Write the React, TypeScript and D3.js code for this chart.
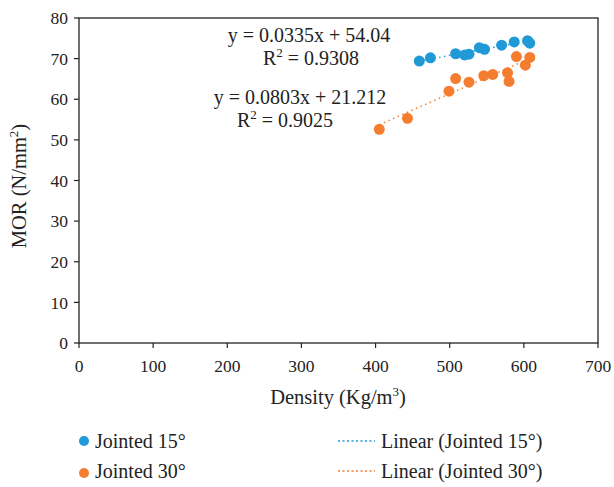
import React from "react";
import * as d3 from "d3";

// Jointed 15° (density, MOR)
const density15 = [459, 474, 508, 520, 526, 540, 547, 570, 587, 605, 608];
const mor15 = [69.4, 70.2, 71.2, 70.9, 71.1, 72.7, 72.3, 73.3, 74.1, 74.4, 73.8];

// Jointed 30°
const density30 = [405, 443, 499, 508, 526, 546, 558, 578, 580, 590, 602, 608];
const mor30 = [52.6, 55.3, 62.0, 65.1, 64.2, 65.8, 66.1, 66.5, 64.4, 70.5, 68.4, 70.3];

const seriesNames = ["Jointed 15°", "Jointed 30°"];
const slopes = [0.0335, 0.0803];
const intercepts = [54.04, 21.212];
const eqTexts = ["y = 0.0335x + 54.04", "y = 0.0803x + 21.212"];
const r2Texts = ["0.9308", "0.9025"];

const xTicks = [0, 100, 200, 300, 400, 500, 600, 700];
const yTicks = [0, 10, 20, 30, 40, 50, 60, 70, 80];

const colors = ["#1f9ad7", "#f57d2f"];
const FONT = "'Liberation Serif', 'Times New Roman', serif";

export default function App() {
  const width = 614;
  const height = 487;
  const left = 79, right = 598, top = 18, bottom = 343;

  const x = d3.scaleLinear().domain([0, 700]).range([left, right]);
  const y = d3.scaleLinear().domain([0, 80]).range([bottom, top]);

  const series = [
    { xs: density15, ys: mor15 },
    { xs: density30, ys: mor30 },
  ];

  const line = d3.line<[number, number]>().x(d => x(d[0])).y(d => y(d[1]));

  // equation label positions
  const eqPos = [
    { cx: 309, cy: 35, rx: 311, ry: 58 },
    { cx: 300, cy: 97, rx: 285, ry: 120 },
  ];

  return (
    <svg width={width} height={height} style={{ position: "absolute", left: 0, top: 0 }} fontFamily={FONT}>
      <rect x={0} y={0} width={width} height={height} fill="#fff" />
      {/* frame */}
      <rect x={left} y={top} width={right - left} height={bottom - top} fill="none" stroke="#222" strokeWidth={1.3} />

      {/* y ticks */}
      {yTicks.map(t => (
        <g key={"y" + t}>
          <line x1={left - 5} x2={left} y1={y(t)} y2={y(t)} stroke="#222" strokeWidth={1.2} />
          <text x={left - 11} y={y(t)} dy="0.35em" textAnchor="end" fontSize={17.5} fill="#222">{t}</text>
        </g>
      ))}
      {/* x ticks */}
      {xTicks.map(t => (
        <g key={"x" + t}>
          <line x1={x(t)} x2={x(t)} y1={bottom} y2={bottom + 5} stroke="#222" strokeWidth={1.2} />
          <text x={x(t)} y={bottom + 29} textAnchor="middle" fontSize={17.5} fill="#222">{t}</text>
        </g>
      ))}

      {/* axis titles */}
      <text x={338} y={404} textAnchor="middle" fontSize={20.5} fill="#222">
        Density (Kg/m<tspan dy={-8} fontSize={13}>3</tspan><tspan dy={8}>)</tspan>
      </text>
      <text transform={`translate(26,${186}) rotate(-90)`} textAnchor="middle" fontSize={20.5} fill="#222">
        MOR (N/mm<tspan dy={-8} fontSize={13}>2</tspan><tspan dy={8}>)</tspan>
      </text>

      {/* trend lines */}
      {series.map((s, i) => {
        const x0 = d3.min(s.xs) as number;
        const x1 = d3.max(s.xs) as number;
        const pts: [number, number][] = [
          [x0, slopes[i] * x0 + intercepts[i]],
          [x1, slopes[i] * x1 + intercepts[i]],
        ];
        return <path key={"t" + i} d={line(pts) || ""} fill="none" stroke={colors[i]} strokeWidth={1.5} strokeDasharray="1.5,3.5" />;
      })}

      {/* points */}
      {series.map((s, i) =>
        s.xs.map((d, j) => (
          <circle key={`p${i}-${j}`} cx={x(d)} cy={y(s.ys[j])} r={5.5} fill={colors[i]} />
        ))
      )}

      {/* equations */}
      {eqPos.map((p, i) => (
        <g key={"eq" + i} fontSize={20} fill="#222" textAnchor="middle">
          <text x={p.cx} y={p.cy} dy="0.35em">{eqTexts[i]}</text>
          <text x={p.rx} y={p.ry} dy="0.35em">
            R<tspan dy={-8} fontSize={13}>2</tspan><tspan dy={8}> = {r2Texts[i]}</tspan>
          </text>
        </g>
      ))}

      {/* legend */}
      {seriesNames.map((n, i) => (
        <g key={"lg" + i}>
          <circle cx={84} cy={441 + i * 32} r={5} fill={colors[i]} />
          <text x={95} y={441 + i * 30} dy="0.35em" fontSize={20} fill="#222">{n}</text>
          <line x1={338} x2={375} y1={441 + i * 30} y2={441 + i * 30} stroke={colors[i]} strokeWidth={1.3} strokeDasharray="2,2.5" />
          <text x={381} y={441 + i * 30} dy="0.35em" fontSize={20} fill="#222">Linear ({n})</text>
        </g>
      ))}
    </svg>
  );
}
